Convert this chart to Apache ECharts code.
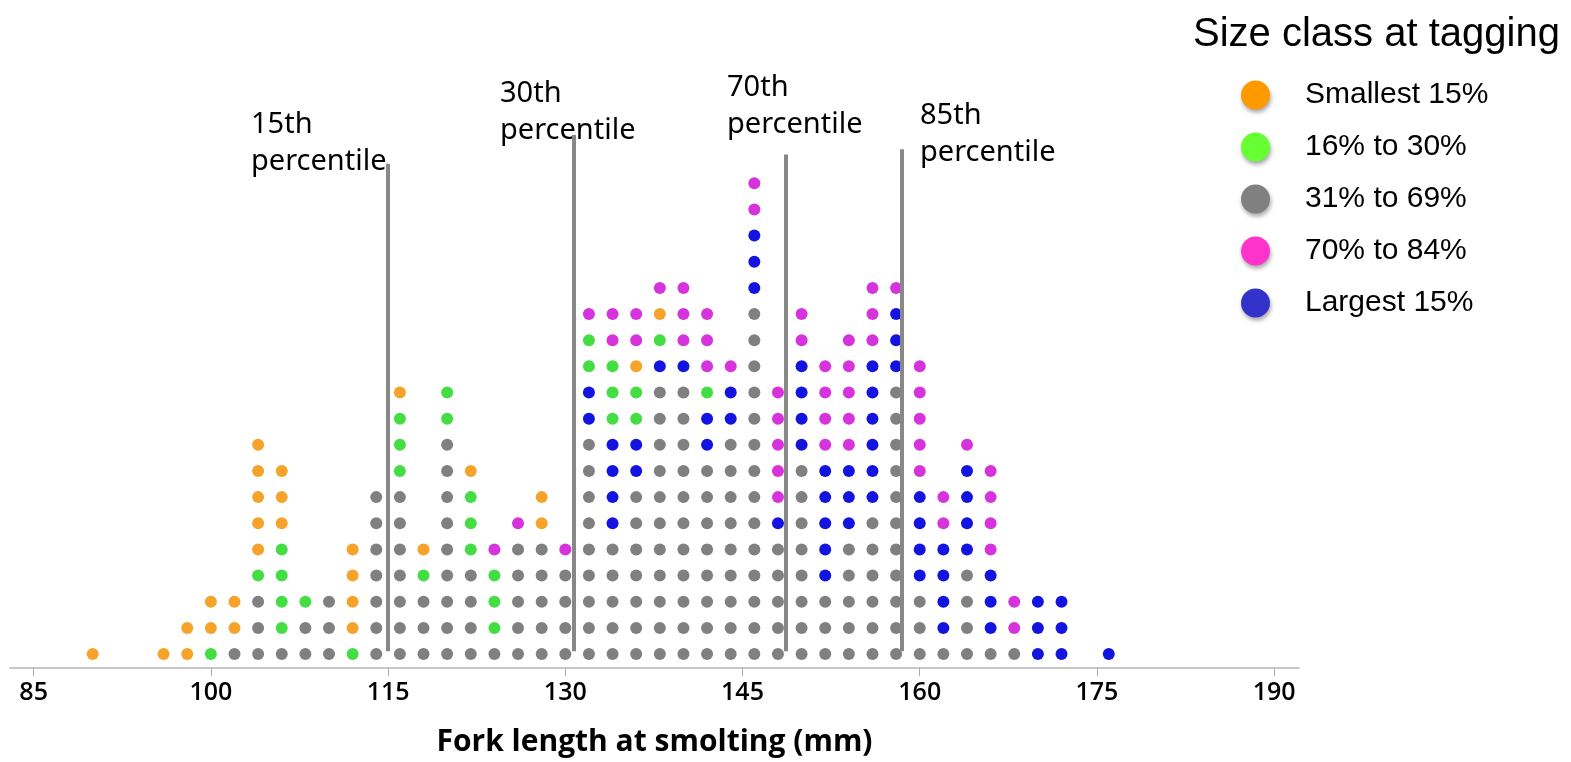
<!DOCTYPE html>
<html>
<head>
<meta charset="utf-8">
<script src="https://cdn.jsdelivr.net/npm/echarts@6/dist/echarts.min.js"></script>
<style>html,body{margin:0;padding:0;background:#fff;}#chart{width:1571px;height:762px;}</style>
</head>
<body>
<div id="chart"></div>
<script>
// Fork length columns (mm) and the stacked size-class codes, bottom to top
// 1 = Smallest 15%, 2 = 16% to 30%, 3 = 31% to 69%, 4 = 70% to 84%, 5 = Largest 15%
const lengths = [90, 96, 98, 100, 102, 104, 106, 108, 110, 112, 114, 116, 118, 120, 122, 124, 126, 128, 130,
  132, 134, 136, 138, 140, 142, 144, 146, 148, 150, 152, 154, 156, 158, 160, 162, 164, 166, 168, 170, 172, 176];
const stacks = [
  "1", "1", "11", "211", "311", "333211111", "32222111", "332", "333", "21111",
  "3333333", "33333332221", "33321", "33333333322", "33332221", "32224", "333334", "3333311", "33334",
  "33333333355224", "33333555522244", "33333335522144", "333333333335214", "333333333335444",
  "33333333552444", "333333333554", "3333333333333355544", "33333544444", "33333333555544",
  "333555554444", "3333355544444", "333333555555444", "333333333335554", "333555544444",
  "3555544", "333355554", "35554444", "344", "555", "555", "5"
];
const classNames = ["Smallest 15%", "16% to 30%", "31% to 69%", "70% to 84%", "Largest 15%"];
const dotColors = ["#F5A32A", "#44DD44", "#808080", "#D633DD", "#1414E0"];
const legendColors = ["#FF9900", "#66FF33", "#808080", "#FF33CC", "#3333CC"];
const xTicks = [85, 100, 115, 130, 145, 160, 175, 190];
// Percentile lines: position (mm), top (in dot rows), label
const pctValues = [115, 130.7, 148.7, 158.5];
const pctTops = [18.75, 19.85, 19.1, 19.3];
const pctLabels = ["15th\npercentile", "30th\npercentile", "70th\npercentile", "85th\npercentile"];
const pctLabelPos = [[251, 106], [500, 75], [727, 69], [920, 97]];

const seriesData = classNames.map(() => []);
lengths.forEach((len, i) => {
  const s = stacks[i];
  for (let j = 0; j < s.length; j++) {
    seriesData[parseInt(s[j], 10) - 1].push([len, j]);
  }
});

const series = classNames.map((name, k) => ({
  name: name,
  type: 'scatter',
  symbol: 'circle',
  symbolSize: 12,
  itemStyle: { color: dotColors[k], opacity: 1 },
  data: seriesData[k],
  silent: true,
  z: 3
}));

series.push({
  name: 'percentiles',
  type: 'scatter',
  data: [],
  silent: true,
  markLine: {
    symbol: ['none', 'none'],
    silent: true,
    label: { show: false },
    lineStyle: { color: '#888888', width: 4, type: 'solid' },
    data: pctValues.map((v, i) => [{ coord: [v, 0.11] }, { coord: [v, pctTops[i]] }]),
    z: 4
  }
});

const chart = echarts.init(document.getElementById('chart'), null, { renderer: 'canvas' });
chart.setOption({
  backgroundColor: '#ffffff',
  animation: false,
  title: {
    text: 'Size class at tagging',
    left: 1188,
    top: 10,
    textStyle: { fontFamily: 'Liberation Sans', fontSize: 40, fontWeight: 'normal', color: '#000' }
  },
  legend: {
    orient: 'vertical',
    left: 1236,
    top: 75,
    itemWidth: 29,
    itemHeight: 29,
    itemGap: 22,
    icon: 'circle',
    selectedMode: false,
    data: classNames.map((n, k) => ({
      name: n,
      itemStyle: { color: legendColors[k], shadowBlur: 4, shadowOffsetX: 1, shadowOffsetY: 3, shadowColor: 'rgba(0,0,0,0.35)' }
    })),
    textStyle: { fontFamily: 'Liberation Sans', fontSize: 30, color: '#000', padding: [0, 0, 0, 30] }
  },
  grid: { left: 10, right: 272, top: 131, bottom: 93, containLabel: false },
  xAxis: {
    type: 'value',
    min: 83,
    max: 192.1,
    splitLine: { show: false },
    axisLine: { show: true, onZero: false, lineStyle: { color: '#c8c8c8', width: 2 } },
    axisTick: { show: true, customValues: xTicks, length: 8, lineStyle: { color: '#aaaaaa', width: 1 } },
    axisLabel: {
      customValues: xTicks, margin: 12,
      fontFamily: 'Open Sans', fontSize: 25, fontWeight: 600, color: '#000'
    },
    name: 'Fork length at smolting (mm)',
    nameLocation: 'middle',
    nameGap: 59,
    nameTextStyle: { fontFamily: 'Open Sans', fontSize: 30, fontWeight: 'bold', color: '#000' }
  },
  yAxis: {
    type: 'value',
    min: -0.534,
    max: 20,
    show: false
  },
  graphic: pctLabels.map((t, i) => ({
    type: 'text',
    left: pctLabelPos[i][0],
    top: pctLabelPos[i][1],
    silent: true,
    style: {
      text: t,
      font: '29px "Noto Sans"',
      fill: '#000',
      lineHeight: 37
    }
  })),
  series: series
});
</script>
</body>
</html>
